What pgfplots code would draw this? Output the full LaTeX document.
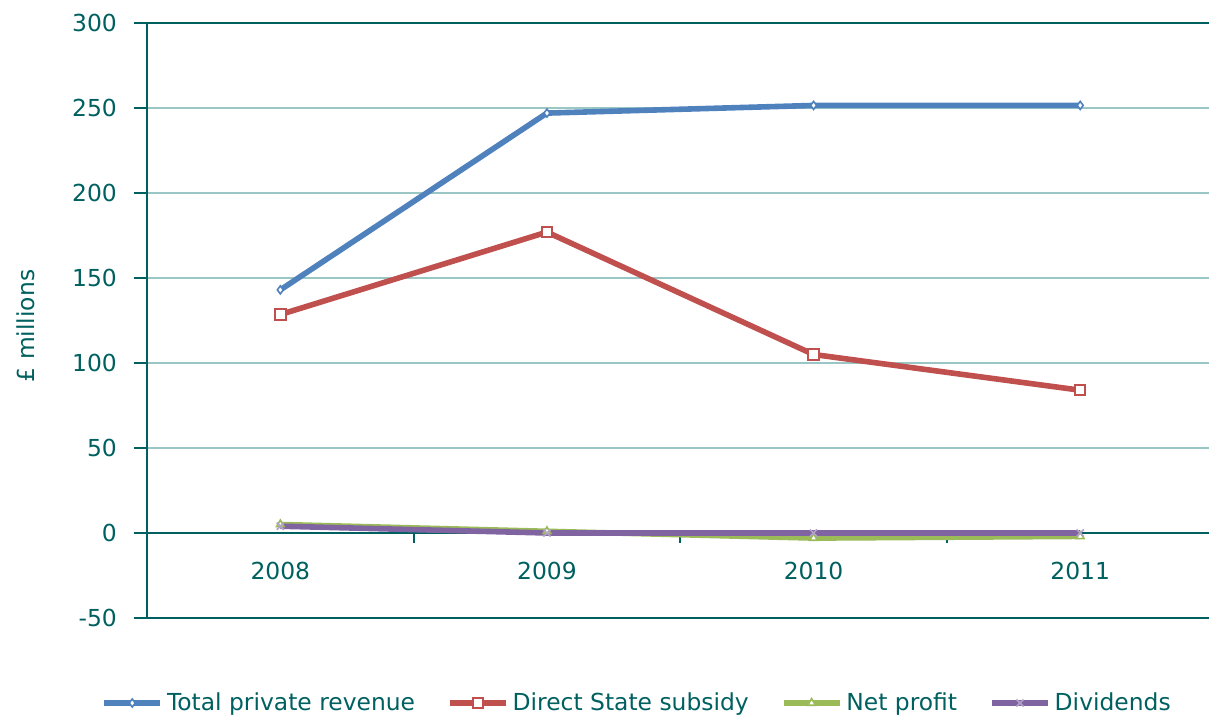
\documentclass[border=0pt]{standalone}
\usepackage{pgfplots}
\pgfplotsset{compat=1.18}
\usepackage{fontspec}
\setmainfont{DejaVu Sans}
\definecolor{axc}{RGB}{0,96,96}
\definecolor{gridc}{RGB}{155,198,198}
\definecolor{cblue}{RGB}{79,129,189}
\definecolor{cred}{RGB}{192,80,77}
\definecolor{cgreen}{RGB}{155,187,89}
\definecolor{cpurple}{RGB}{128,100,162}
\begin{document}
\fontsize{11.7}{14}\selectfont
\begin{tikzpicture}
\useasboundingbox (-73.5pt,-49pt) rectangle (531pt,309pt);
\begin{axis}[
  at={(0,0)}, anchor=south west,
  scale only axis, width=531pt, height=297.5pt,
  xmin=-0.5, xmax=3.483, ymin=-50, ymax=300,
  axis y line*=left, axis x line*=middle,
  axis line style={draw=axc, line width=1.4pt},
  xtick={0,1,2,3}, xticklabels={2008,2009,2010,2011},
  major x tick style={draw=none},
  extra x ticks={0.5,1.5,2.5}, extra x tick labels={},
  extra x tick style={major x tick style={draw=axc, line width=1pt}, major tick length=5pt},
  ytick={-50,0,50,...,300},
  ymajorgrids, grid style={draw=gridc, line width=1pt},
  tick align=outside, major tick length=6.5pt,
  ytick style={draw=axc, line width=1pt},
  ticklabel style={font=\fontsize{11.7}{14}\selectfont, text=axc},
  /pgf/number format/assume math mode=true,
  yticklabel style={xshift=-4.5pt},
  xticklabel style={yshift=-4pt},
  ylabel={£ millions},
  ylabel style={at={(axis description cs:-0.1140,0.4908)}, anchor=center, rotate=0, font=\fontsize{11.7}{14}\selectfont, text=axc},
  legend columns=4,
  legend style={at={(axis description cs:0.4624,-0.1429)}, anchor=center, draw=none, fill=none,
    font=\fontsize{11.7}{14}\selectfont, text=axc,
    /tikz/every even column/.append style={column sep=14pt}},
  legend image code/.code={\draw[mark repeat=2,mark phase=2] plot coordinates {(0pt,0pt) (14pt,0pt) (28pt,0pt)};},
  every axis plot/.append style={line width=2.8pt},
  clip=false,
]
\addplot[cblue, mark=diamond*, mark size=2pt, mark options={fill=white, draw=cblue, line width=0.8pt}]
  coordinates {(0,143) (1,247) (2,251.5) (3,251.5)};
\addlegendentry{Total private revenue}
\addplot[cred, mark=square*, mark size=2.6pt, mark options={fill=white, draw=cred, line width=1pt}]
  coordinates {(0,128.5) (1,177) (2,105) (3,84)};
\addlegendentry{Direct State subsidy}
\addplot[cgreen, mark=triangle*, mark size=2.2pt, mark options={fill=white, draw=cgreen, line width=0.8pt}]
  coordinates {(0,5) (1,1) (2,-3) (3,-2)};
\addlegendentry{Net profit}
\addplot[cpurple, mark=x, mark size=2.5pt, mark options={draw=cpurple!60, line width=0.8pt}]
  coordinates {(0,4) (1,0) (2,0) (3,0)};
\addlegendentry{Dividends}
\draw[axc, line width=1.4pt] (rel axis cs:0,1) -- (rel axis cs:1,1);
\draw[axc, line width=1.4pt] (rel axis cs:0,0) -- (rel axis cs:1,0);
\end{axis}
\end{tikzpicture}
\end{document}
